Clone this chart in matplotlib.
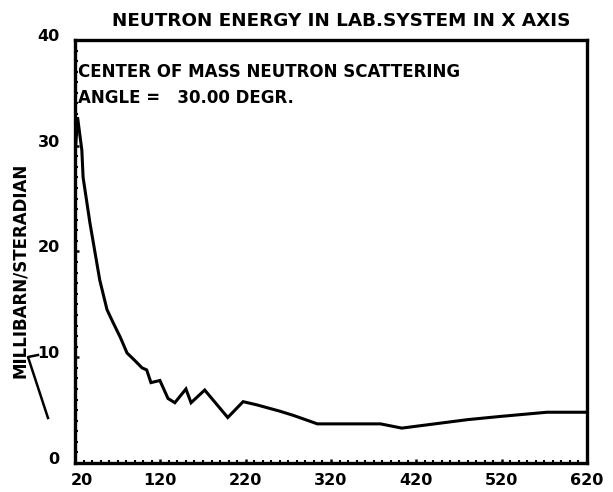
import matplotlib
matplotlib.use("Agg")
import matplotlib.pyplot as plt
from matplotlib.ticker import MultipleLocator
from matplotlib.transforms import ScaledTranslation
from matplotlib.lines import Line2D

# Data
energy = [20, 23, 28, 29.5, 37.5, 49, 57.5, 64.5, 73, 81, 90, 98.5, 104, 109,
          119.5, 129, 137, 150, 156, 172, 199, 217, 233, 260, 276, 304, 354,
          378, 403, 480, 518, 573, 620]
xsec = [29.0, 32.7, 29.6, 27.0, 22.7, 17.3, 14.5, 13.3, 11.9, 10.4, 9.7, 9.0,
        8.8, 7.6, 7.8, 6.1, 5.7, 7.0, 5.7, 6.9, 4.3, 5.8, 5.5, 4.9, 4.5, 3.7,
        3.7, 3.7, 3.3, 4.1, 4.4, 4.8, 4.8]
xticks = [20, 120, 220, 320, 420, 520, 620]
yticks = [0, 10, 20, 30, 40]

W, H = 613, 492
fig = plt.figure(figsize=(W / 100, H / 100), dpi=100)
ax = fig.add_axes([75 / W, 1 - 463 / H, (587 - 75) / W, (463 - 40) / H])

font = dict(family="DejaVu Sans", weight="bold")

ax.plot(energy, xsec, color="black", lw=2.2, solid_joinstyle="miter")
ax.set_xlim(20, 620)
ax.set_ylim(0, 40)
ax.set_xticks(xticks)
ax.set_xticklabels([str(v) for v in xticks], fontsize=11.5, **font)
ax.set_yticks(yticks)
ax.set_yticklabels([str(v) for v in yticks], fontsize=11.5, **font)
ax.xaxis.set_minor_locator(MultipleLocator(10))
ax.yaxis.set_minor_locator(MultipleLocator(1))
ax.tick_params(which="major", direction="in", length=3, width=1.8)
ax.tick_params(which="minor", direction="in", length=2, width=1.5)
ax.tick_params(axis="x", which="major", pad=7)
ax.tick_params(axis="y", which="major", pad=11)
for lab in ax.get_yticklabels():
    lab.set_transform(lab.get_transform() + ScaledTranslation(0, 5 / 100, fig.dpi_scale_trans))
first = ax.get_xticklabels()[0]
first.set_transform(first.get_transform() + ScaledTranslation(7 / 100, 0, fig.dpi_scale_trans))
for s in ax.spines.values():
    s.set_linewidth(2.4)

fig.text(0.5 * (112 + 571) / W, 1 - 21 / H, "NEUTRON ENERGY IN LAB.SYSTEM IN X AXIS",
         ha="center", va="center", fontsize=13.2, **font)
fig.text(78 / W, 1 - 72 / H, "CENTER OF MASS NEUTRON SCATTERING",
         ha="left", va="center", fontsize=12, **font)
fig.text(78 / W, 1 - 98 / H, "ANGLE =   30.00 DEGR.",
         ha="left", va="center", fontsize=12, **font)
fig.text(20 / W, 1 - 270 / H, "MILLIBARN/STERADIAN", rotation=90,
         ha="center", va="center", fontsize=12, **font)

# stray pen stroke near the "10" label
px = [38, 28, 48]
py = [355, 357, 418]
fig.add_artist(Line2D([p / W for p in px], [1 - q / H for q in py],
                      transform=fig.transFigure, color="black", lw=1.8))

fig.savefig("out.png", dpi=100)
